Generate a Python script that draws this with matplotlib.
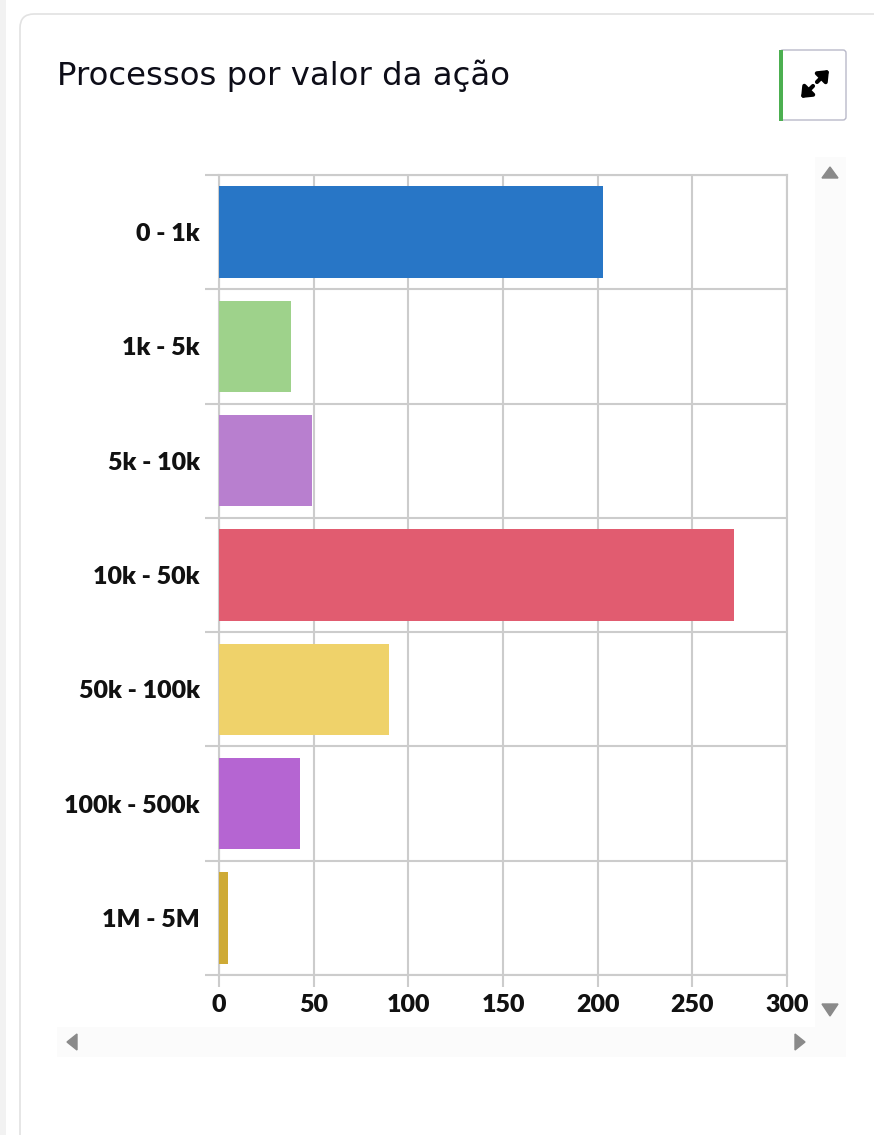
import matplotlib
matplotlib.use('Agg')
import matplotlib.pyplot as plt
from matplotlib.patches import FancyBboxPatch, Rectangle, Polygon
import numpy as np

# dados do gráfico
categorias = ['0 - 1k', '1k - 5k', '5k - 10k', '10k - 50k', '50k - 100k', '100k - 500k', '1M - 5M']
valores = [203, 38, 49, 272, 90, 43, 5]
cores = ['#2876c6', '#9ed28b', '#b87fcf', '#e15c70', '#efd26a', '#b565d2', '#ceaa35']
ticks_x = [0, 50, 100, 150, 200, 250, 300]
titulo = 'Processos por valor da ação'

W, H = 874, 1135
fig = plt.figure(figsize=(W / 100, H / 100), dpi=100)
fig.patch.set_facecolor('white')

# camada de fundo em pixels (cartão, botão, barras de rolagem)
bg = fig.add_axes([0, 0, 1, 1], zorder=0)
bg.set_xlim(0, W)
bg.set_ylim(H, 0)
bg.axis('off')

bg.add_patch(Rectangle((0, 0), 6, H, facecolor='#f2f2f2', edgecolor='none'))
bg.add_patch(FancyBboxPatch((20, 14), 880, 1150, boxstyle='round,pad=0,rounding_size=14',
                            facecolor='white', edgecolor='#e2e2e2', linewidth=1.2))

bg.text(57, 85, titulo, fontsize=23.3, family='DejaVu Sans', color='#0d0d18',
        va='baseline', ha='left')

# botão de expandir
bg.add_patch(FancyBboxPatch((780, 50), 66, 70, boxstyle='round,pad=0,rounding_size=3',
                            facecolor='white', edgecolor='#b9b9c9', linewidth=1))
bg.add_patch(Rectangle((779, 50), 3.5, 71, facecolor='#4caf50', edgecolor='none'))
seta_icone = dict(arrowstyle='-|>,head_width=0.45,head_length=0.55', color='black', lw=3,
                  shrinkA=0, shrinkB=0)
bg.annotate('', xy=(829, 70), xytext=(817, 82), arrowprops=seta_icone)
bg.annotate('', xy=(801, 98), xytext=(813, 86), arrowprops=seta_icone)

# barras de rolagem
bg.add_patch(Rectangle((815, 157), 31, 870, facecolor='#fbfbfb', edgecolor='none'))
bg.add_patch(Rectangle((57, 1027), 789, 30, facecolor='#fbfbfb', edgecolor='none'))
seta = '#8a8a8a'
bg.add_patch(Polygon([[822, 178], [838, 178], [830, 167]], closed=True, facecolor=seta, edgecolor=seta))
bg.add_patch(Polygon([[822, 1004], [838, 1004], [830, 1016]], closed=True, facecolor=seta, edgecolor=seta))
bg.add_patch(Polygon([[77, 1034], [77, 1050], [67, 1042]], closed=True, facecolor=seta, edgecolor=seta))
bg.add_patch(Polygon([[795, 1034], [795, 1050], [805, 1042]], closed=True, facecolor=seta, edgecolor=seta))

# gráfico de barras
x0, x1, y0, y1 = 219, 787, 175, 975
ax = fig.add_axes([x0 / W, 1 - y1 / H, (x1 - x0) / W, (y1 - y0) / H], zorder=2)
ax.set_facecolor('none')

pos = np.arange(len(categorias))
ax.barh(pos, valores, height=0.8, color=cores, zorder=3)

ax.set_xlim(0, 300)
ax.set_ylim(len(categorias) - 0.5, -0.5)

ax.set_xticks(ticks_x)
ax.set_xticklabels([str(t) for t in ticks_x])
ax.set_yticks(pos)
ax.set_yticklabels(categorias)
ax.set_yticks(np.arange(-0.5, len(categorias)), minor=True)

grade = '#cccccc'
ax.grid(True, axis='x', which='major', color=grade, linewidth=1.5, zorder=0)
ax.grid(True, axis='y', which='minor', color=grade, linewidth=1.5, zorder=0)
for s in ax.spines.values():
    s.set_color(grade)
    s.set_linewidth(1.5)

ax.tick_params(axis='y', which='major', length=0, pad=14)
ax.tick_params(axis='y', which='minor', length=10, width=1.5, color=grade)
ax.tick_params(axis='x', which='major', length=8.5, width=1.5, color=grade, pad=5)

for lab in ax.get_yticklabels() + ax.get_xticklabels():
    lab.set_family('Lato')
    lab.set_fontweight('heavy')
    lab.set_fontsize(18)
    lab.set_color('#111111')

fig.savefig('out.png', dpi=100)
